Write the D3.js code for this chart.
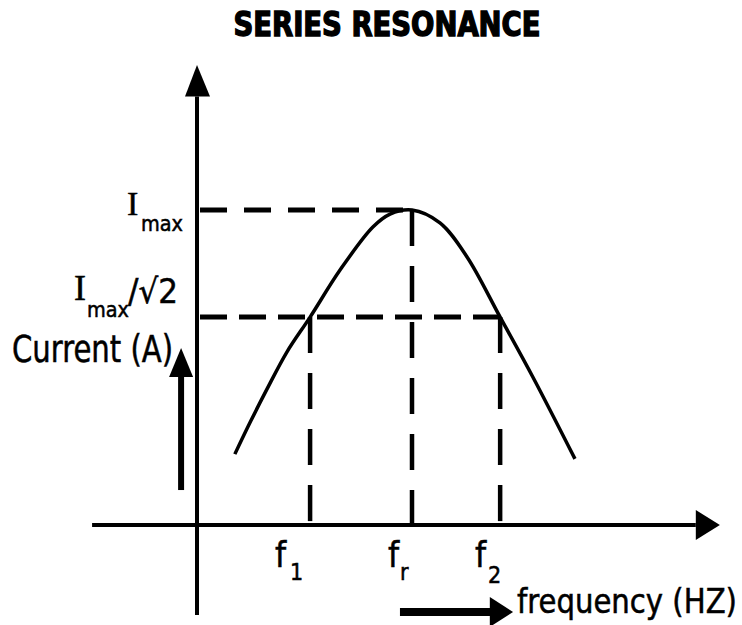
<!DOCTYPE html>
<html>
<head>
<meta charset="utf-8">
<script src="https://cdn.jsdelivr.net/npm/d3@7"></script>
<style>
  html, body { margin: 0; padding: 0; background: #fff; }
  svg { display: block; }
</style>
</head>
<body>
<svg id="chart" width="742" height="625"></svg>
<script>
// ---- data ----
const title = "SERIES RESONANCE";
const freq    = [8.8, 12.5, 16.3, 20.9, 26.3, 33.3, 40.9, 44.9, 50.0, 56.5, 62.8, 70.5, 78.1, 87.9];
const current = [2.25, 3.30, 4.32, 5.49, 6.60, 8.10, 9.46, 9.87, 10.0, 9.59, 8.51, 6.60, 4.70, 2.10];
const markerNames = ["f1", "fr", "f2"];
const markerFreq  = [26.3, 50, 70.5];
const levelNames  = ["Imax", "Imax/√2"];
const levelValues = [10, 6.6];
const xAxisLabel = "frequency (HZ)";
const yAxisLabel = "Current (A)";

const svg = d3.select("#chart");
const x = d3.scaleLinear().domain([0, 50]).range([197, 412]);
const y = d3.scaleLinear().domain([0, 10]).range([525, 210]);

// title
svg.append("text")
  .attr("x", 387).attr("y", 36)
  .attr("text-anchor", "middle")
  .attr("font-family", "DejaVu Sans Condensed, DejaVu Sans")
  .attr("font-weight", "bold")
  .attr("font-size", 34)
  .attr("stroke", "#000").attr("stroke-width", 1.4)
  .attr("textLength", 307).attr("lengthAdjust", "spacingAndGlyphs")
  .text(title);

// axes
const axisG = svg.append("g").attr("stroke", "#000").attr("fill", "#000");
axisG.append("line")
  .attr("x1", x(-24.4)).attr("x2", x(116)).attr("y1", y(0)).attr("y2", y(0))
  .attr("stroke-width", 4);
axisG.append("path")
  .attr("d", `M${x(116)},${y(0)-15} L${x(121.6)},${y(0)} L${x(116)},${y(0)+15} Z`)
  .attr("stroke", "none");
axisG.append("line")
  .attr("x1", x(0)).attr("x2", x(0)).attr("y1", y(-2.86)).attr("y2", y(13.6))
  .attr("stroke-width", 4);
axisG.append("path")
  .attr("d", `M${x(0)-12},${y(13.6)} L${x(0)},${y(14.6)} L${x(0)+13},${y(13.6)} Z`)
  .attr("stroke", "none");

// dashed guide lines
const dashG = svg.append("g").attr("stroke", "#000").attr("fill", "none").attr("stroke-width", 5);
dashG.append("line")
  .attr("x1", x(0.7)).attr("x2", x(markerFreq[1])).attr("y1", y(levelValues[0])).attr("y2", y(levelValues[0]))
  .attr("stroke-dasharray", "27,17");
dashG.append("line")
  .attr("x1", x(0.7)).attr("x2", x(markerFreq[2])).attr("y1", y(levelValues[1])).attr("y2", y(levelValues[1]))
  .attr("stroke-dasharray", "27,12");
markerFreq.forEach((f, i) => {
  const top = i === 1 ? levelValues[0] : levelValues[1];
  dashG.append("line")
    .attr("x1", x(f)).attr("x2", x(f)).attr("y1", y(top)).attr("y2", y(0))
    .attr("stroke-width", 4.5)
    .attr("stroke-dasharray", "36,20");
});

// resonance curve
const pts = freq.map((f, i) => [x(f), y(current[i])]);
svg.append("path")
  .attr("d", d3.line().curve(d3.curveCatmullRom.alpha(0.5))(pts))
  .attr("fill", "none").attr("stroke", "#000").attr("stroke-width", 3.5);

// y label arrow (current)
svg.append("line")
  .attr("x1", x(-3.7)).attr("x2", x(-3.7)).attr("y1", y(1.11)).attr("y2", y(4.7))
  .attr("stroke", "#000").attr("stroke-width", 6);
svg.append("path")
  .attr("d", `M${x(-3.7)-12},${y(4.7)} L${x(-3.7)},${y(5.62)} L${x(-3.7)+12},${y(4.7)} Z`)
  .attr("fill", "#000");

// x label arrow (frequency)
svg.append("line")
  .attr("x1", x(47.2)).attr("x2", x(68.3)).attr("y1", y(-2.76)).attr("y2", y(-2.76))
  .attr("stroke", "#000").attr("stroke-width", 8);
svg.append("path")
  .attr("d", `M${x(68.1)},${y(-2.76)-15} L${x(73.5)},${y(-2.76)} L${x(68.1)},${y(-2.76)+15} Z`)
  .attr("fill", "#000");

const sans = "DejaVu Sans Condensed, DejaVu Sans";
const serif = "Liberation Serif, DejaVu Serif";

function txt(t, px, py, size, family, len) {
  const el = svg.append("text").attr("x", px).attr("y", py)
    .attr("font-family", family).attr("font-size", size)
    .attr("stroke", "#000").attr("stroke-width", 0.5)
    .text(t);
  if (len) el.attr("textLength", len).attr("lengthAdjust", "spacingAndGlyphs");
  return el;
}

// level labels
txt("I", 127, 215, 34, serif);
txt("max", 141, 231, 22, sans, 42);
txt("I", 74, 300, 36, serif);
txt("max", 87, 317, 22, sans, 42);
txt("/√2", 128, 303, 34, sans, 50);

// axis labels
txt(yAxisLabel, 12, 362, 37, sans, 161);
txt(xAxisLabel, 517, 613, 33, sans, 220);

// frequency marker labels
const markerLabelPos = [
  {fx: 275, sx: 290, sy: 580},
  {fx: 388, sx: 400, sy: 580},
  {fx: 475, sx: 488, sy: 583}
];
markerNames.forEach((n, i) => {
  const p = markerLabelPos[i];
  txt("f", p.fx, 567, 35, sans);
  txt(n.slice(1), p.sx, p.sy, 23, sans);
});
</script>
</body>
</html>
